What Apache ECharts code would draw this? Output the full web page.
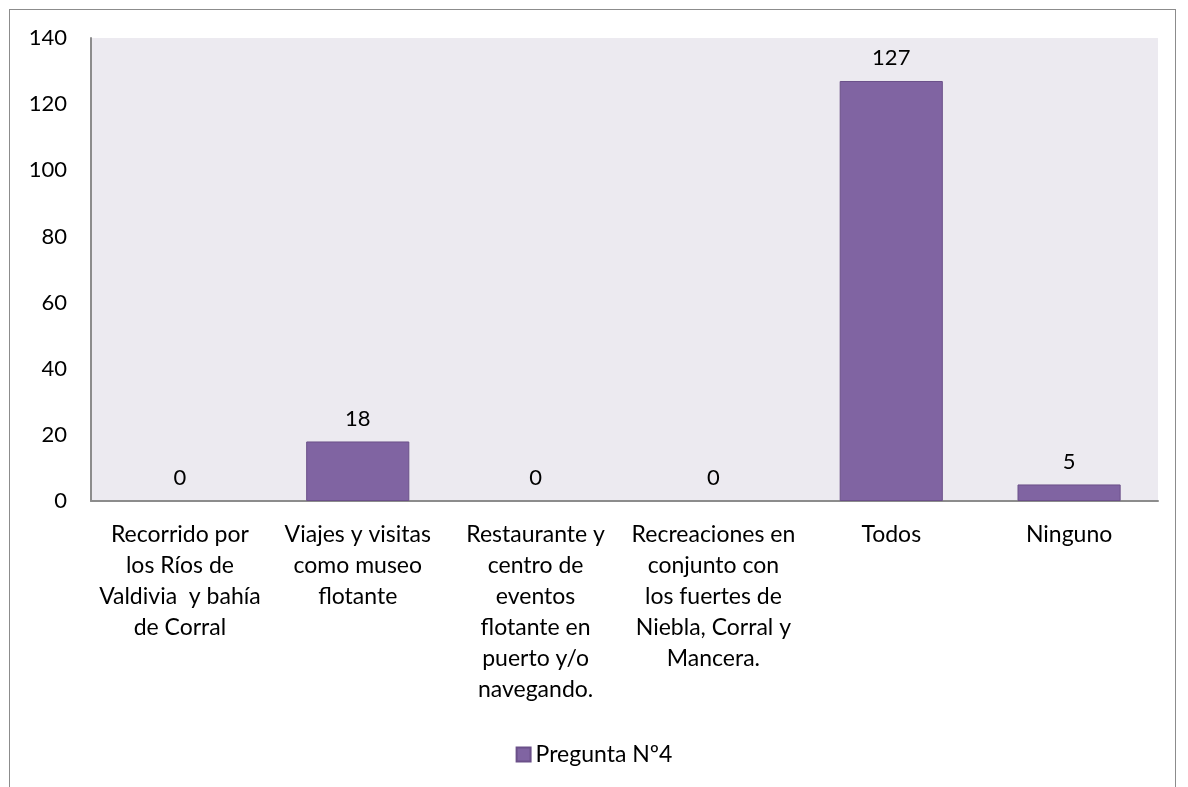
<!DOCTYPE html>
<html>
<head>
<meta charset="utf-8">
<script src="https://cdn.jsdelivr.net/npm/echarts@6/dist/echarts.min.js"></script>
<style>
  html, body { margin: 0; padding: 0; background: #fff; }
  #frame {
    position: absolute; left: 9px; top: 9px; width: 1167px; height: 800px;
    border: 1.5px solid #8c8c8c; box-sizing: border-box;
  }
  #chart { position: absolute; left: 0; top: 0; width: 1188px; height: 787px; }
</style>
</head>
<body>
<div id="frame"></div>
<div id="chart"></div>
<script>
// categorías y valores
const categories = [
  'Recorrido por\nlos Ríos de\nValdivia  y bahía\nde Corral',
  'Viajes y visitas\ncomo museo\nflotante',
  'Restaurante y\ncentro de\neventos\nflotante en\npuerto y/o\nnavegando.',
  'Recreaciones en\nconjunto con\nlos fuertes de\nNiebla, Corral y\nMancera.',
  'Todos',
  'Ninguno'
];
const values = [0, 18, 0, 0, 127, 5];
const seriesName = 'Pregunta Nº4';

const font = 'Lato, "Open Sans", sans-serif';
const chart = echarts.init(document.getElementById('chart'));
chart.setOption({
  animation: false,
  textStyle: { fontFamily: font },
  grid: { left: 91, top: 38, right: 30, bottom: 286, backgroundColor: '#ECEAF0', show: true, borderWidth: 0 },
  legend: {
    top: 738, left: 'center',
    itemWidth: 14, itemHeight: 14, itemGap: 4,
    textStyle: { fontSize: 23, color: '#000', fontFamily: font },
    data: [{ name: seriesName, icon: 'rect' }]
  },
  xAxis: {
    type: 'category',
    data: categories,
    axisLine: { lineStyle: { color: '#8c8c8c', width: 2 } },
    axisTick: { show: false },
    axisLabel: { interval: 0, color: '#000', fontSize: 23, lineHeight: 31, margin: 18, fontFamily: font }
  },
  yAxis: {
    type: 'value', min: 0, max: 140, interval: 20,
    splitLine: { show: false },
    axisLine: { show: true, lineStyle: { color: '#8c8c8c', width: 2 } },
    axisTick: { show: false },
    axisLabel: { color: '#000', fontSize: 22, margin: 24, fontFamily: font }
  },
  series: [{
    name: seriesName,
    type: 'bar',
    data: values.map(v => ({ value: v, itemStyle: v === 0 ? { borderWidth: 0 } : {} })),
    barWidth: '58%',
    itemStyle: { color: '#8064A2', borderColor: '#6B5089', borderWidth: 1 },
    label: { show: true, position: 'top', distance: 12, color: '#000', fontSize: 22, fontFamily: font }
  }]
});
</script>
</body>
</html>
